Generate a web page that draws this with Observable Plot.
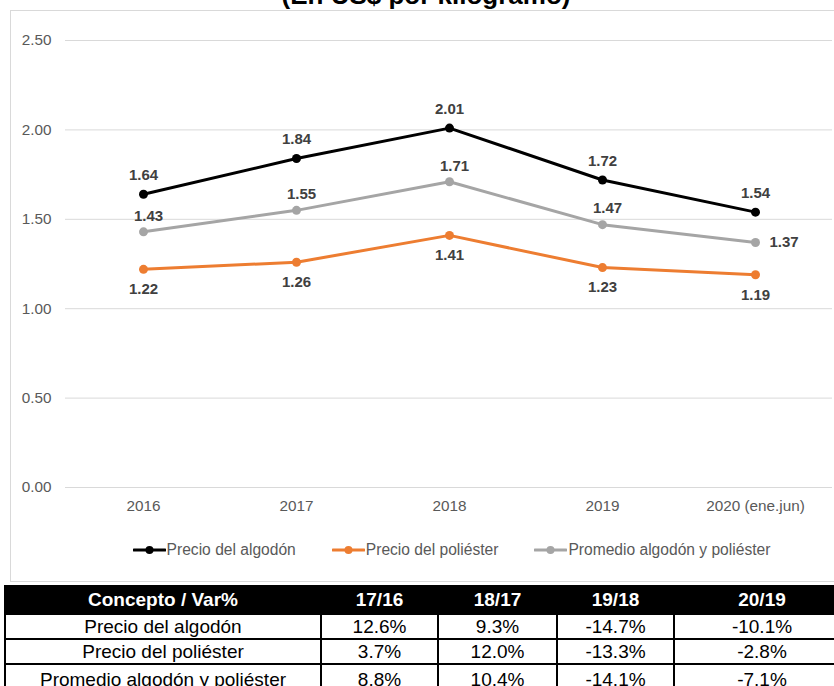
<!DOCTYPE html>
<html>
<head>
<meta charset="utf-8">
<script src="https://cdn.jsdelivr.net/npm/d3@7"></script>
<script src="https://cdn.jsdelivr.net/npm/@observablehq/plot@0.6"></script>
<style>
  body { margin: 0; background: #fff; font-family: "Liberation Sans", Arial, sans-serif; }
  #wrap { position: relative; width: 834px; height: 686px; overflow: hidden; background: #fff; }
  #title { position: absolute; left: 0; width: 852px; top: -18px; text-align: center; font-weight: bold;
           font-size: 26px; line-height: 26px; color: #000; white-space: nowrap; }
  #frame { position: absolute; left: 10px; top: 10px; width: 900px; height: 572px;
           border: 1px solid #d9d9d9; box-sizing: border-box; }
  #chart { position: absolute; left: 0; top: 0; }
  #legend { position: absolute; left: 68px; width: 767px; top: 541px; display: flex; justify-content: center;
            gap: 36px; font-size: 15.6px; color: #595959; line-height: 18px; }
  .item { display: flex; align-items: center; white-space: nowrap; }
  .item svg { margin-right: 1px; }
  table { position: absolute; left: 4px; top: 585px; border-collapse: collapse; table-layout: fixed;
          width: 845px; font-size: 19px; color: #000; }
  th, td { border: 2px solid #000; text-align: center; padding: 0; white-space: nowrap; overflow: hidden; }
  th { background: #000; color: #fff; height: 26px; font-weight: bold; }
  td { height: 23px; }
  tr.last td { height: 26px; vertical-align: bottom; }
</style>
</head>
<body>
<div id="wrap">
  <div id="title">(En US$ por kilogramo)</div>
  <div id="frame"></div>
  <div id="chart"></div>
  <div id="legend"></div>
  <table id="tbl"></table>
</div>
<script>
// ---- Data ----
const years = ["2016", "2017", "2018", "2019", "2020 (ene.jun)"];
const algodon = [1.64, 1.84, 2.01, 1.72, 1.54];
const poliester = [1.22, 1.26, 1.41, 1.23, 1.19];
const promedio = [1.43, 1.55, 1.71, 1.47, 1.37];
const seriesNames = ["Precio del algodón", "Precio del poliéster", "Promedio algodón y poliéster"];
const seriesColors = ["#000000", "#ED7D31", "#A5A5A5"];
const yTicks = [0, 0.5, 1, 1.5, 2, 2.5];

const varHeaders = ["17/16", "18/17", "19/18", "20/19"];
const varAlgodon = [12.6, 9.3, -14.7, -10.1];
const varPoliester = [3.7, 12.0, -13.3, -2.8];
const varPromedio = [8.8, 10.4, -14.1, -7.1];

// ---- Build rows ----
const allSeries = [algodon, poliester, promedio];
const rows = [];
allSeries.forEach((vals, s) => vals.forEach((v, i) => rows.push({serie: seriesNames[s], year: years[i], value: v})));
const rowsOf = (s) => rows.filter(d => d.serie === seriesNames[s]);
const promRows = rowsOf(2);
const lastYear = years[years.length - 1];

const locale = d3.formatLocale({decimal: ".", thousands: ",", grouping: [3], currency: ["$", ""], minus: "-"});
const labelStyle = {fontSize: 15, fontWeight: "bold", fill: "#404040"};
const fmt = locale.format(".2f");

const chart = Plot.plot({
  width: 834,
  height: 525,
  marginLeft: 65,
  marginRight: 2,
  marginTop: 40,
  marginBottom: 38,
  style: {fontFamily: "Liberation Sans, Arial, sans-serif", fontSize: "15px", color: "#595959", background: "transparent"},
  x: {type: "point", domain: years, padding: 0.5, label: null},
  y: {domain: [0, 2.5], label: null},
  color: {domain: seriesNames, range: seriesColors},
  marks: [
    Plot.gridY(yTicks, {stroke: "#d9d9d9", strokeOpacity: 1, strokeWidth: 1}),
    Plot.axisY(yTicks, {tickSize: 0, tickPadding: 14, tickFormat: fmt, fontSize: 15.3, label: null}),
    Plot.axisX({tickSize: 0, tickPadding: 13, fontSize: 15.3, label: null}),
    Plot.line(rows, {x: "year", y: "value", z: "serie", stroke: "serie", strokeWidth: 3,
                     strokeLinejoin: "round", strokeLinecap: "round"}),
    Plot.dot(rows, {x: "year", y: "value", fill: "serie", r: 4.5}),
    Plot.text(rowsOf(0), {x: "year", y: "value", text: d => fmt(d.value), dy: -19, ...labelStyle}),
    Plot.text(rowsOf(1), {x: "year", y: "value", text: d => fmt(d.value), dy: 20, ...labelStyle}),
    Plot.text(promRows.filter(d => d.year !== lastYear), {x: "year", y: "value", text: d => fmt(d.value), dy: -16, dx: 5, ...labelStyle}),
    Plot.text(promRows.filter(d => d.year === lastYear), {x: "year", y: "value", text: d => fmt(d.value), dx: 14, textAnchor: "start", ...labelStyle})
  ]
});
document.getElementById("chart").appendChild(chart);

// ---- Legend ----
const legend = document.getElementById("legend");
seriesNames.forEach((name, i) => {
  const item = document.createElement("div");
  item.className = "item";
  item.innerHTML = `<svg width="33" height="12"><line x1="1" y1="6" x2="32" y2="6" stroke="${seriesColors[i]}" stroke-width="3" stroke-linecap="round"/><circle cx="16.5" cy="6" r="4" fill="${seriesColors[i]}"/></svg><span>${name}</span>`;
  legend.appendChild(item);
});

// ---- Table ----
const tbl = document.getElementById("tbl");
const colWidths = [316, 117, 119, 117, 176];
const colgroup = document.createElement("colgroup");
colWidths.forEach(w => { const c = document.createElement("col"); c.style.width = w + "px"; colgroup.appendChild(c); });
tbl.appendChild(colgroup);
const thead = document.createElement("tr");
["Concepto / Var%", ...varHeaders].forEach(h => { const th = document.createElement("th"); th.textContent = h; thead.appendChild(th); });
tbl.appendChild(thead);
const pct = locale.format(".1f");
[varAlgodon, varPoliester, varPromedio].forEach((vals, s, arr) => {
  const tr = document.createElement("tr");
  if (s === arr.length - 1) tr.className = "last";
  const td0 = document.createElement("td"); td0.textContent = seriesNames[s]; tr.appendChild(td0);
  vals.forEach(v => { const td = document.createElement("td"); td.textContent = pct(v) + "%"; tr.appendChild(td); });
  tbl.appendChild(tr);
});
</script>
</body>
</html>
